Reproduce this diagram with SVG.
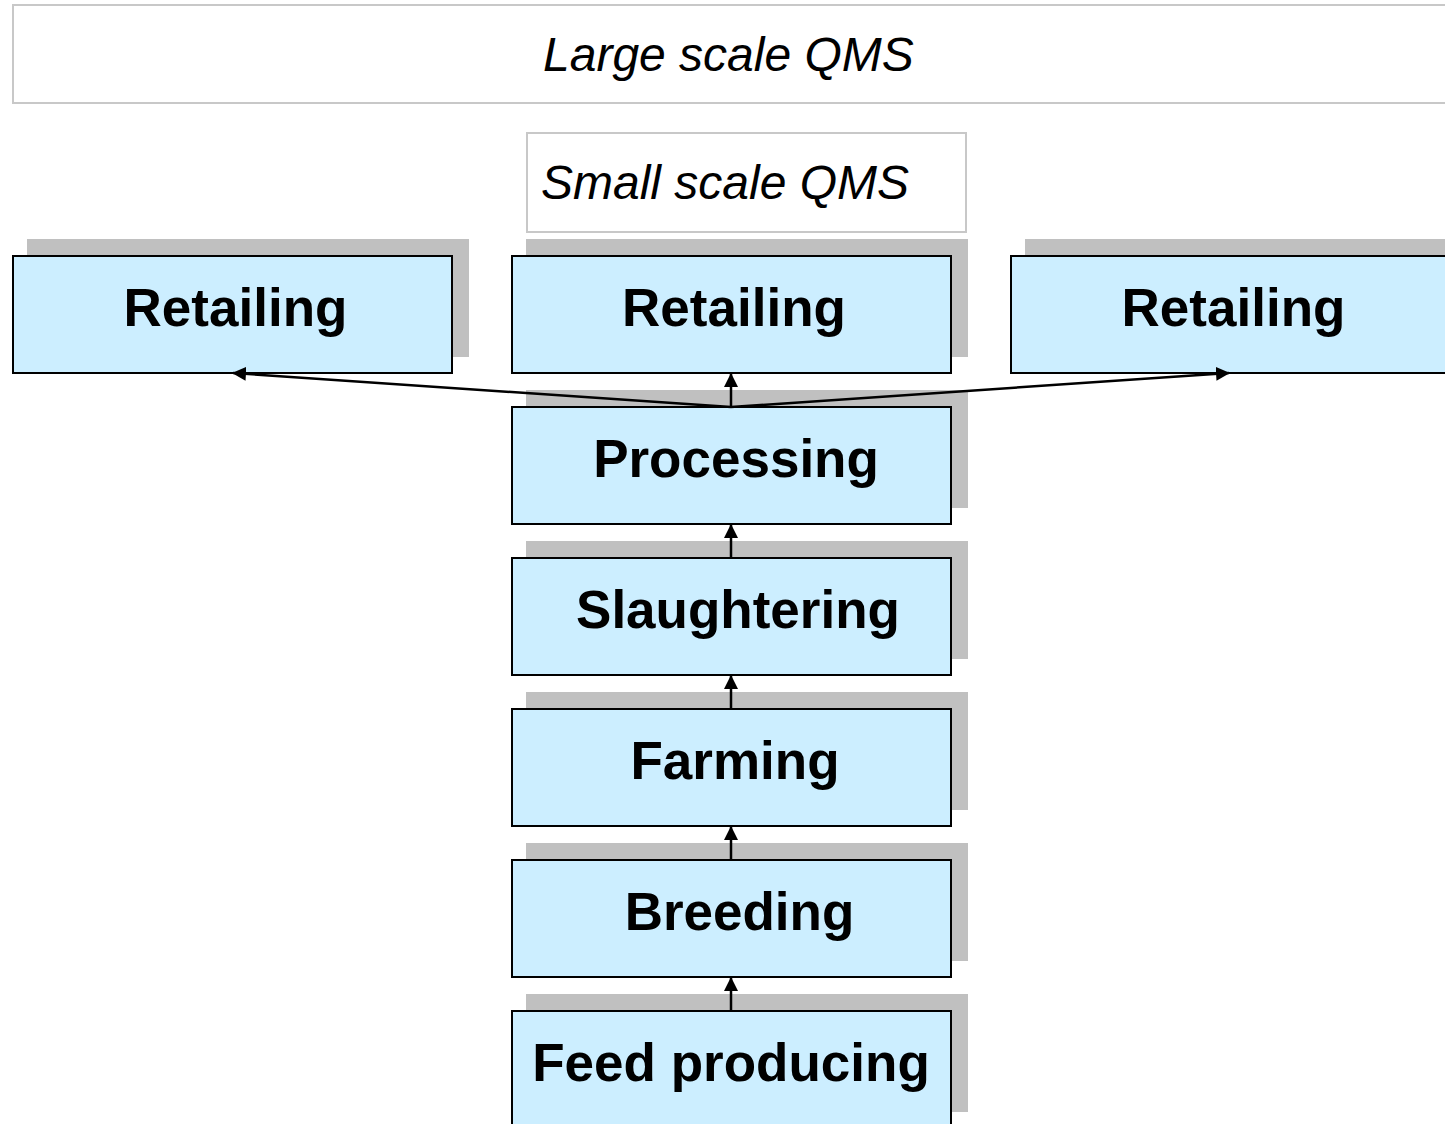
<svg xmlns="http://www.w3.org/2000/svg" width="1445" height="1124" viewBox="0 0 1445 1124">
<defs>
<style>
.frame{fill:#fff;stroke:#c8c8c8;stroke-width:2}
.qms{font-family:"Liberation Sans",Arial,sans-serif;font-style:italic;font-size:48px;fill:#000}
.shadow{fill:#c0c0c0}
.box{fill:#cceeff;stroke:#000;stroke-width:2}
.lbl{font-family:"Liberation Sans",Arial,sans-serif;font-weight:bold;font-size:53px;fill:#000;text-anchor:middle}
.conn{stroke:#000;stroke-width:2.5;fill:none}
</style>
<marker id="ah" markerWidth="14" markerHeight="14" refX="13" refY="7" orient="auto" markerUnits="userSpaceOnUse">
<path d="M0,0 L14,7 L0,14 Z" fill="#000"/>
</marker>
</defs>
<g id="large-qms">
<rect class="frame" x="13" y="5" width="1440" height="98"/>
<text class="qms" x="543" y="71">Large scale QMS</text>
</g>
<g id="small-qms">
<rect class="frame" x="527" y="133" width="439" height="99"/>
<text class="qms" x="541" y="199">Small scale QMS</text>
</g>
<g id="retailing-left">
<rect class="shadow" x="27" y="239" width="442" height="118"/>
<rect class="box" x="13" y="256" width="439" height="117"/>
<text class="lbl" x="235.5" y="326">Retailing</text>
</g>
<g id="retailing-mid">
<rect class="shadow" x="526" y="239" width="442" height="118"/>
<rect class="box" x="512" y="256" width="439" height="117"/>
<text class="lbl" x="734" y="326">Retailing</text>
</g>
<g id="retailing-right">
<rect class="shadow" x="1025" y="239" width="442" height="118"/>
<rect class="box" x="1011" y="256" width="439" height="117"/>
<text class="lbl" x="1233.5" y="326">Retailing</text>
</g>
<g id="processing">
<rect class="shadow" x="526" y="390" width="442" height="118"/>
<rect class="box" x="512" y="407" width="439" height="117"/>
<text class="lbl" x="736" y="477">Processing</text>
</g>
<g id="slaughtering">
<rect class="shadow" x="526" y="541" width="442" height="118"/>
<rect class="box" x="512" y="558" width="439" height="117"/>
<text class="lbl" x="738" y="628">Slaughtering</text>
</g>
<g id="farming">
<rect class="shadow" x="526" y="692" width="442" height="118"/>
<rect class="box" x="512" y="709" width="439" height="117"/>
<text class="lbl" x="735" y="779">Farming</text>
</g>
<g id="breeding">
<rect class="shadow" x="526" y="843" width="442" height="118"/>
<rect class="box" x="512" y="860" width="439" height="117"/>
<text class="lbl" x="739.5" y="930">Breeding</text>
</g>
<g id="feed-producing">
<rect class="shadow" x="526" y="994" width="442" height="118"/>
<rect class="box" x="512" y="1011" width="439" height="117"/>
<text class="lbl" x="731" y="1081">Feed producing</text>
</g>
<g id="connectors">
<line class="conn" x1="731" y1="407" x2="731" y2="374" marker-end="url(#ah)"/>
<line class="conn" x1="731" y1="407" x2="233" y2="373" marker-end="url(#ah)"/>
<line class="conn" x1="731" y1="407" x2="1229" y2="373" marker-end="url(#ah)"/>
<line class="conn" x1="731" y1="558" x2="731" y2="525" marker-end="url(#ah)"/>
<line class="conn" x1="731" y1="709" x2="731" y2="676" marker-end="url(#ah)"/>
<line class="conn" x1="731" y1="860" x2="731" y2="827" marker-end="url(#ah)"/>
<line class="conn" x1="731" y1="1011" x2="731" y2="978" marker-end="url(#ah)"/>
</g>
</svg>
